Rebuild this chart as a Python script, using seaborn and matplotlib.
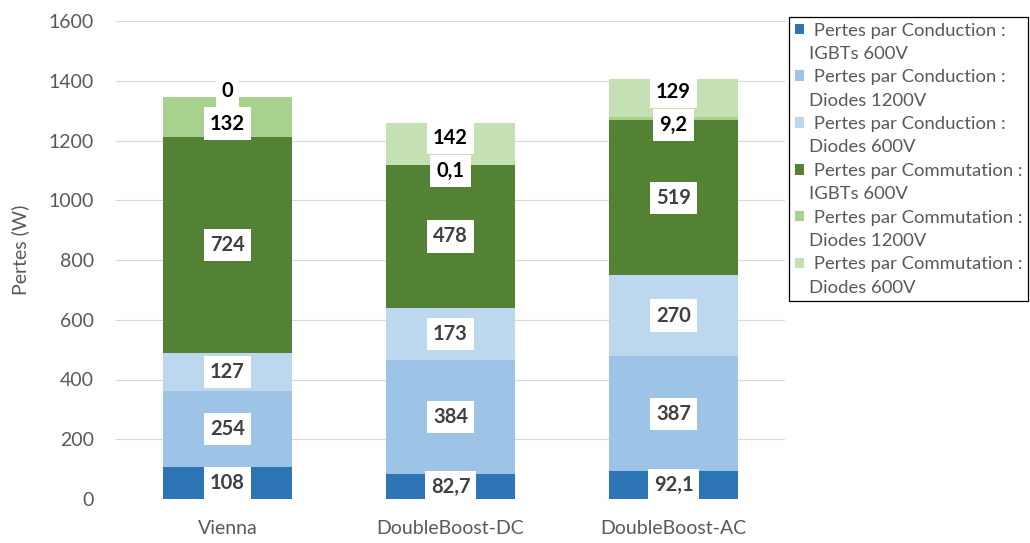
import numpy as np
import pandas as pd
import matplotlib
matplotlib.use("Agg")
import matplotlib.pyplot as plt
from matplotlib.patches import Patch
import seaborn as sns

# ---------------- data ----------------
categories = ["Vienna", "DoubleBoost-DC", "DoubleBoost-AC"]
series_names = [
    "Pertes par Conduction :\nIGBTs 600V",
    "Pertes par Conduction :\nDiodes 1200V",
    "Pertes par Conduction :\nDiodes 600V",
    "Pertes par Commutation :\nIGBTs 600V",
    "Pertes par Commutation :\nDiodes 1200V",
    "Pertes par Commutation :\nDiodes 600V",
]
cond_igbt_600 = [108, 82.7, 92.1]
cond_diode_1200 = [254, 384, 387]
cond_diode_600 = [127, 173, 270]
comm_igbt_600 = [724, 478, 519]
comm_diode_1200 = [132, 0.1, 9.2]
comm_diode_600 = [0, 142, 129]
series_values = [cond_igbt_600, cond_diode_1200, cond_diode_600,
                 comm_igbt_600, comm_diode_1200, comm_diode_600]
yticks = [0, 200, 400, 600, 800, 1000, 1200, 1400, 1600]

colors = ["#2E75B6", "#9DC3E6", "#BDD7EE", "#548235", "#A9D18E", "#C5E0B4"]
label_colors = ["#404040", "#404040", "#404040", "#404040", "#000000", "#000000"]

# ---------------- style ----------------
sns.set_style("white")
plt.rcParams["font.family"] = ["Lato", "DejaVu Sans"]

W, H = 1030, 543
fig = plt.figure(figsize=(W / 100, H / 100), dpi=100)
ax = fig.add_axes([116 / W, 1 - 499 / H, (785 - 116) / W, (499 - 21) / H])

vals = np.array(series_values, dtype=float)
cum = np.cumsum(vals, axis=0)
bottoms = cum - vals

# stacked bars: draw cumulative totals from top series down
for i in range(len(series_values) - 1, -1, -1):
    df = pd.DataFrame({"cat": categories, "cum": cum[i]})
    sns.barplot(data=df, x="cat", y="cum", color=colors[i], width=0.574,
                saturation=1, errorbar=None, ax=ax, linewidth=0, zorder=2)

ax.set_ylim(0, 1600)
ax.set_xlim(-0.5, 2.5)
ax.set_yticks(yticks)
ax.set_yticklabels([str(t) for t in yticks])
ax.yaxis.grid(True, color="#D9D9D9", linewidth=0.8, zorder=0)
ax.xaxis.grid(False)
ax.set_axisbelow(True)
for s in ax.spines.values():
    s.set_visible(False)
ax.tick_params(axis="y", length=0, pad=16, labelsize=14, labelcolor="#595959")
ax.tick_params(axis="x", length=0, pad=15, labelsize=14, labelcolor="#595959")
ax.set_xlabel("")
ax.set_ylabel("")
fig.text(20 / W, 1 - 250 / H, "Pertes (W)", rotation=90, ha="center", va="center",
         fontsize=14, color="#595959")

# ---------------- data labels ----------------
def fmt(v):
    if float(v).is_integer():
        return str(int(v))
    return ("%g" % v).replace(".", ",")

units_per_px = 1600 / 478.0
min_gap = 33 * units_per_px
for j in range(len(categories)):
    ys = [bottoms[i, j] + vals[i, j] / 2 for i in range(len(series_values))]
    for _ in range(5):
        for i in range(len(ys) - 1):
            d = ys[i + 1] - ys[i]
            if d < min_gap:
                shift = (min_gap - d) / 2
                ys[i] -= shift
                ys[i + 1] += shift
    for i in range(len(series_values)):
        ax.text(j, ys[i], fmt(vals[i, j]), ha="center", va="center",
                fontsize=14.5, fontweight="bold", color=label_colors[i], zorder=5,
                bbox=dict(boxstyle="square,pad=0.3", fc="white", ec="none"))

# ---------------- legend ----------------
handles, labels = [], []
for name, c in zip(series_names, colors):
    l1, l2 = name.split("\n")
    handles.append(Patch(facecolor=c, edgecolor="none"))
    labels.append(" " + l1)
    handles.append(Patch(facecolor="none", edgecolor="none"))
    labels.append(l2)
leg = fig.legend(handles, labels, loc="upper left",
                 bbox_to_anchor=(789 / W, 1 - 17 / H), bbox_transform=fig.transFigure,
                 frameon=True, fancybox=False, edgecolor="black", framealpha=1,
                 fontsize=13.3, handlelength=0.5, handleheight=0.5,
                 handletextpad=0.3, labelspacing=0.4, borderpad=0.3,
                 borderaxespad=0)
leg.get_frame().set_linewidth(0.9)
for t in leg.get_texts():
    t.set_color("#595959")

fig.savefig("out.png", dpi=100)
